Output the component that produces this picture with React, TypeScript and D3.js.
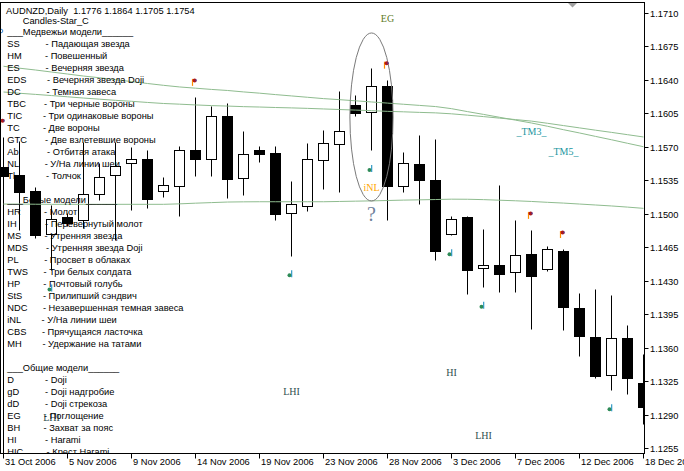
import React from 'react';
import * as d3 from 'd3';

const dates = [
  '2006-10-31', '2006-11-01', '2006-11-02', '2006-11-03', '2006-11-05', '2006-11-06', '2006-11-07', '2006-11-08',
  '2006-11-09', '2006-11-10', '2006-11-12', '2006-11-13', '2006-11-14', '2006-11-15', '2006-11-16', '2006-11-17',
  '2006-11-19', '2006-11-20', '2006-11-21', '2006-11-22', '2006-11-23', '2006-11-24', '2006-11-26', '2006-11-27',
  '2006-11-28', '2006-11-29', '2006-11-30', '2006-12-01', '2006-12-03', '2006-12-04', '2006-12-05', '2006-12-06',
  '2006-12-07', '2006-12-08', '2006-12-10', '2006-12-11', '2006-12-12', '2006-12-13', '2006-12-14', '2006-12-15',
  '2006-12-18',
];

const open = [1.1549, 1.1540, 1.1524, 1.1479, 1.1496, 1.1493, 1.1521, 1.1540, 1.1553, 1.1557, 1.1524, 1.1529, 1.1566, 1.1557, 1.1602, 1.1537, 1.1566, 1.1563, 1.1501, 1.1508, 1.1556, 1.1573, 1.1614, 1.1606, 1.1633, 1.1529, 1.1552, 1.1535, 1.1479, 1.1496, 1.1443, 1.1446, 1.1439, 1.1458, 1.1442, 1.1461, 1.1401, 1.1371, 1.1331, 1.1370, 1.1323];
const high = [1.1580, 1.1576, 1.1528, 1.1509, 1.1501, 1.1575, 1.1553, 1.1575, 1.1570, 1.1566, 1.1538, 1.1571, 1.1622, 1.1612, 1.1616, 1.1586, 1.1571, 1.1571, 1.1534, 1.1574, 1.1587, 1.1628, 1.1624, 1.1652, 1.1640, 1.1564, 1.1582, 1.1578, 1.1497, 1.1497, 1.1484, 1.1530, 1.1493, 1.1483, 1.1466, 1.1463, 1.1417, 1.1421, 1.1415, 1.1384, 1.1353];
const low = [1.1230, 1.1483, 1.1474, 1.1441, 1.1487, 1.1485, 1.1514, 1.1472, 1.1504, 1.1506, 1.1517, 1.1498, 1.1539, 1.1539, 1.1516, 1.1519, 1.1554, 1.1493, 1.1456, 1.1503, 1.1526, 1.1523, 1.1602, 1.1566, 1.1493, 1.1523, 1.1510, 1.1452, 1.1478, 1.1416, 1.1423, 1.1418, 1.1418, 1.1379, 1.1440, 1.1378, 1.1351, 1.1328, 1.1316, 1.1311, 1.1280];
const close = [1.1539, 1.1523, 1.1478, 1.1494, 1.1490, 1.1521, 1.1538, 1.1550, 1.1557, 1.1515, 1.1530, 1.1566, 1.1557, 1.1602, 1.1536, 1.1562, 1.1562, 1.1500, 1.1510, 1.1557, 1.1574, 1.1586, 1.1605, 1.1633, 1.1529, 1.1553, 1.1535, 1.1461, 1.1494, 1.1441, 1.1446, 1.1437, 1.1457, 1.1435, 1.1463, 1.1402, 1.1372, 1.1330, 1.1370, 1.1328, 1.1298];

const maA = [1.16540, 1.16520, 1.16501, 1.16480, 1.16459, 1.16438, 1.16420, 1.16400, 1.16380, 1.16360, 1.16341, 1.16324, 1.16311, 1.16298, 1.16287, 1.16272, 1.16259, 1.16244, 1.16230, 1.16216, 1.16202, 1.16191, 1.16179, 1.16167, 1.16155, 1.16143, 1.16131, 1.16119, 1.16097, 1.16066, 1.16037, 1.16007, 1.15977, 1.15947, 1.15913, 1.15877, 1.15843, 1.15807, 1.15772, 1.15735, 1.15699];
const maB = [1.16271, 1.16258, 1.16246, 1.16234, 1.16221, 1.16208, 1.16196, 1.16184, 1.16174, 1.16162, 1.16151, 1.16144, 1.16136, 1.16129, 1.16124, 1.16118, 1.16114, 1.16109, 1.16105, 1.16100, 1.16094, 1.16088, 1.16082, 1.16076, 1.16069, 1.16064, 1.16058, 1.16053, 1.16043, 1.16029, 1.16014, 1.15998, 1.15983, 1.15967, 1.15944, 1.15920, 1.15896, 1.15872, 1.15849, 1.15825, 1.15801];
const maC = [1.15100, 1.15100, 1.15098, 1.15097, 1.15097, 1.15097, 1.15097, 1.15097, 1.15097, 1.15097, 1.15097, 1.15102, 1.15109, 1.15115, 1.15121, 1.15123, 1.15124, 1.15124, 1.15124, 1.15124, 1.15124, 1.15127, 1.15130, 1.15133, 1.15137, 1.15141, 1.15144, 1.15147, 1.15151, 1.15150, 1.15146, 1.15140, 1.15134, 1.15127, 1.15118, 1.15110, 1.15100, 1.15090, 1.15080, 1.15068, 1.15055];

const priceTicks = [1.1710, 1.1675, 1.1640, 1.1605, 1.1570, 1.1535, 1.1500, 1.1465, 1.1430, 1.1395, 1.1360, 1.1325, 1.1290, 1.1255];
const dateTicks = ['2006-10-31', '2006-11-05', '2006-11-09', '2006-11-14', '2006-11-19', '2006-11-23', '2006-11-28', '2006-12-03', '2006-12-07', '2006-12-12', '2006-12-18'];

const upMarkers = [0, 12, 24, 33, 35];
const downMarkers = [3, 18, 23, 28, 30, 38];

const chartLabels = [
  { text: 'EG', bar: 24, price: 1.1704, kind: 'eg' },
  { text: 'iNL', bar: 23, price: 1.1527, kind: 'inl' },
  { text: '?', bar: 23, price: 1.1500, kind: 'q' },
  { text: '_TM3_', bar: 33, price: 1.15856, kind: 'tm' },
  { text: '_TM5_', bar: 35, price: 1.15647, kind: 'tm' },
  { text: 'HI', bar: 28, price: 1.13337, kind: 'hi' },
  { text: 'LHI', bar: 30, price: 1.12678, kind: 'hi' },
  { text: 'LHI', bar: 18, price: 1.13138, kind: 'hi' },
  { text: 'LHI', bar: 3, price: 1.12871, kind: 'hi' },
];

const ellipseObj = { barFrom: 21.65, barTo: 24.35, priceTop: 1.16888, priceBottom: 1.15132 };

const headerLine = 'AUDNZD,Daily  1.1776 1.1864 1.1705 1.1754';
const indicatorName = 'Candles-Star_C';
const sp = (n: number) => ' '.repeat(n);
const legendLines = [
  '___Медвежьи модели______',
  `SS${sp(10)}- Падающая звезда`,
  `HM${sp(9)}- Повешенный`,
  `ES${sp(10)}- Вечерняя звезда`,
  `EDS${sp(8)}- Вечерняя звезда Doji`,
  `DC${sp(10)}- Темная завеса`,
  `TBC${sp(7)}- Три черные вороны`,
  `TIC${sp(8)}- Три одинаковые вороны`,
  `TC${sp(9)}- Две вороны`,
  `GTC${sp(7)}- Две взлетевшие вороны`,
  `Ab${sp(11)}- Отбитая атака`,
  `NL${sp(10)}- У/На линии шеи`,
  `Tl${sp(12)}- Толчок`,
  '',
  '___Белые модели______',
  `HR${sp(9)}- Молот`,
  `IH${sp(11)}- Перевернутый молот`,
  `MS${sp(9)}- Утренняя звезда`,
  `MDS${sp(7)}- Утренняя звезда Doji`,
  `PL${sp(10)}- Просвет в облаках`,
  `TWS${sp(6)}- Три белых солдата`,
  `HP${sp(9)}- Почтовый голубь`,
  `StS${sp(8)}- Прилипший сэндвич`,
  `NDC${sp(6)}- Незавершенная темная завеса`,
  `iNL${sp(8)}- У/На линии шеи`,
  `CBS${sp(6)}- Прячущаяся ласточка`,
  `MH${sp(8)}- Удержание на татами`,
  '',
  '___Общие модели______',
  `D${sp(12)}- Doji`,
  `gD${sp(10)}- Doji надгробие`,
  `dD${sp(10)}- Doji стрекоза`,
  `EG${sp(9)}- Поглощение`,
  `BH${sp(9)}- Захват за пояс`,
  `HI${sp(11)}- Harami`,
  `HIC${sp(9)}- Крест Harami`,
];

const W = 684;
const H = 471;
const PL_ = 0.5, PT = 2.5, PR = 644.5, PB = 453.5;
const UIFONT = "'Liberation Sans', Arial, sans-serif";
const SERIF = "'Liberation Serif', 'Times New Roman', serif";
const FS = 9.3;

const labelColors: Record<string, string> = {
  eg: '#5d7a1e', inl: '#ffa500', q: '#6f7f9a', tm: '#1a96a0', hi: '#2f4f4f',
};

export default function App() {
  const x = d3.scalePoint<string>().domain(dates).range([3.5, 643.5]);
  const y = d3.scaleLinear().domain([1.1255, 1.1710]).range([448, 12.7]);
  const barX = (b: number) => 3.5 + (b / (dates.length - 1)) * (643.5 - 3.5);
  const cy = (v: number) => Math.round(y(v)) + 0.5;
  const fmt = d3.timeFormat('%-d %b %Y');
  const parse = d3.timeParse('%Y-%m-%d');

  const line = d3.line<number>().x((_, i) => x(dates[i]) as number).y((v) => y(v));

  const ex1 = barX(ellipseObj.barFrom), ex2 = barX(ellipseObj.barTo);
  const ey1 = y(ellipseObj.priceTop), ey2 = y(ellipseObj.priceBottom);

  return (
    <svg width={W} height={H} style={{ position: 'absolute', left: 0, top: 0, background: '#fff' }}>
      <defs>
        <clipPath id="plot">
          <rect x={1} y={3} width={643} height={450} />
        </clipPath>
      </defs>
      <rect x={0} y={0} width={W} height={H} fill="#fff" />
      <g clipPath="url(#plot)">
        {dates.map((d, i) => {
          const cx = x(d) as number;
          const bull = close[i] >= open[i];
          const top = cy(Math.max(open[i], close[i]));
          const bot = cy(Math.min(open[i], close[i]));
          return (
            <g key={d}>
              <line x1={cx} x2={cx} y1={cy(high[i])} y2={cy(low[i])} stroke="#000" strokeWidth={1} />
              <rect x={cx - 5} y={top} width={10} height={Math.max(bot - top, 0.01)}
                fill={bull ? '#fff' : '#000'} stroke="#000" strokeWidth={1} />
            </g>
          );
        })}
        {[maA, maB, maC].map((m, k) => (
          <path key={k} d={line(m) as string} fill="none" stroke="#8fbc8f" strokeWidth={1} />
        ))}
        <ellipse cx={(ex1 + ex2) / 2} cy={(ey1 + ey2) / 2} rx={(ex2 - ex1) / 2} ry={(ey2 - ey1) / 2}
          fill="none" stroke="#7a7a7a" strokeWidth={1} />
        {upMarkers.map((i) => {
          const mx = (x(dates[i]) as number) - 1.5;
          const my = y(high[i]) - 15;
          return (
            <g key={'u' + i} transform={`translate(${mx},${my})`}>
              <line x1={-1.5} x2={-1.5} y1={-3} y2={4} stroke="#ff8c00" strokeWidth={1.2} />
              <circle cx={0.6} cy={-1.4} r={2} fill="#b01818" />
              <rect x={1.5} y={-2.5} width={1} height={2} fill="#3040c0" />
            </g>
          );
        })}
        {downMarkers.map((i) => {
          const mx = (x(dates[i]) as number) - 1;
          const my = y(low[i]) + 18;
          return (
            <g key={'d' + i} transform={`translate(${mx},${my})`}>
              <circle cx={-1} cy={1.5} r={2} fill="#2e8b57" />
              <line x1={1.2} x2={1.2} y1={-3.5} y2={3.5} stroke="#1e90c0" strokeWidth={1.1} />
            </g>
          );
        })}
        {chartLabels.map((l, k) => (
          <text key={'l' + k} x={barX(l.bar)} y={y(l.price)} textAnchor="middle" dominantBaseline="central"
            fontFamily={SERIF} fontSize={l.kind === 'q' ? 20 : 10} fill={labelColors[l.kind]}>
            {l.text}
          </text>
        ))}
        <text x={6} y={11} dominantBaseline="central" fontFamily={UIFONT} fontSize={FS} fill="#000"
          xmlSpace="preserve" style={{ whiteSpace: 'pre' }}>{headerLine}</text>
        <text x={22.7} y={20.5} dominantBaseline="central" fontFamily={UIFONT} fontSize={FS} fill="#000">{indicatorName}</text>
        <circle cx={1} cy={31} r={1.8} fill="none" stroke="#3a8ad8" strokeWidth={1} />
        {legendLines.map((t, k) => (
          <text key={'g' + k} x={7.3} y={32.3 + 12 * k} dominantBaseline="central" fontFamily={UIFONT}
            fontSize={FS} fill="#000" xmlSpace="preserve" style={{ whiteSpace: 'pre' }}>{t}</text>
        ))}
      </g>
      {/* frame */}
      <line x1={PL_} x2={PL_} y1={PT} y2={PB} stroke="#000" />
      <line x1={0} x2={PR} y1={PT} y2={PT} stroke="#000" />
      <line x1={PR} x2={PR} y1={PT - 0.5} y2={PB + 0.5} stroke="#000" />
      <line x1={0} x2={PR} y1={PB} y2={PB} stroke="#000" />
      <polygon points="568,3 577,3 572.5,7.5" fill="#a0a0a0" />
      {/* price axis */}
      {priceTicks.map((p) => (
        <g key={p}>
          <line x1={PR} x2={PR + 4} y1={cy(p)} y2={cy(p)} stroke="#000" />
          <text x={650} y={cy(p)} dominantBaseline="central" fontFamily={UIFONT} fontSize={FS} fill="#000">
            {p.toFixed(4)}
          </text>
        </g>
      ))}
      {/* time axis */}
      {dateTicks.map((d) => {
        const tx = x(d) as number;
        return (
          <g key={d}>
            <line x1={tx} x2={tx} y1={PB} y2={PB + 5} stroke="#000" />
            <text x={tx + 1.5} y={462} dominantBaseline="central" fontFamily={UIFONT} fontSize={FS} fill="#000">
              {fmt(parse(d) as Date)}
            </text>
          </g>
        );
      })}
    </svg>
  );
}
